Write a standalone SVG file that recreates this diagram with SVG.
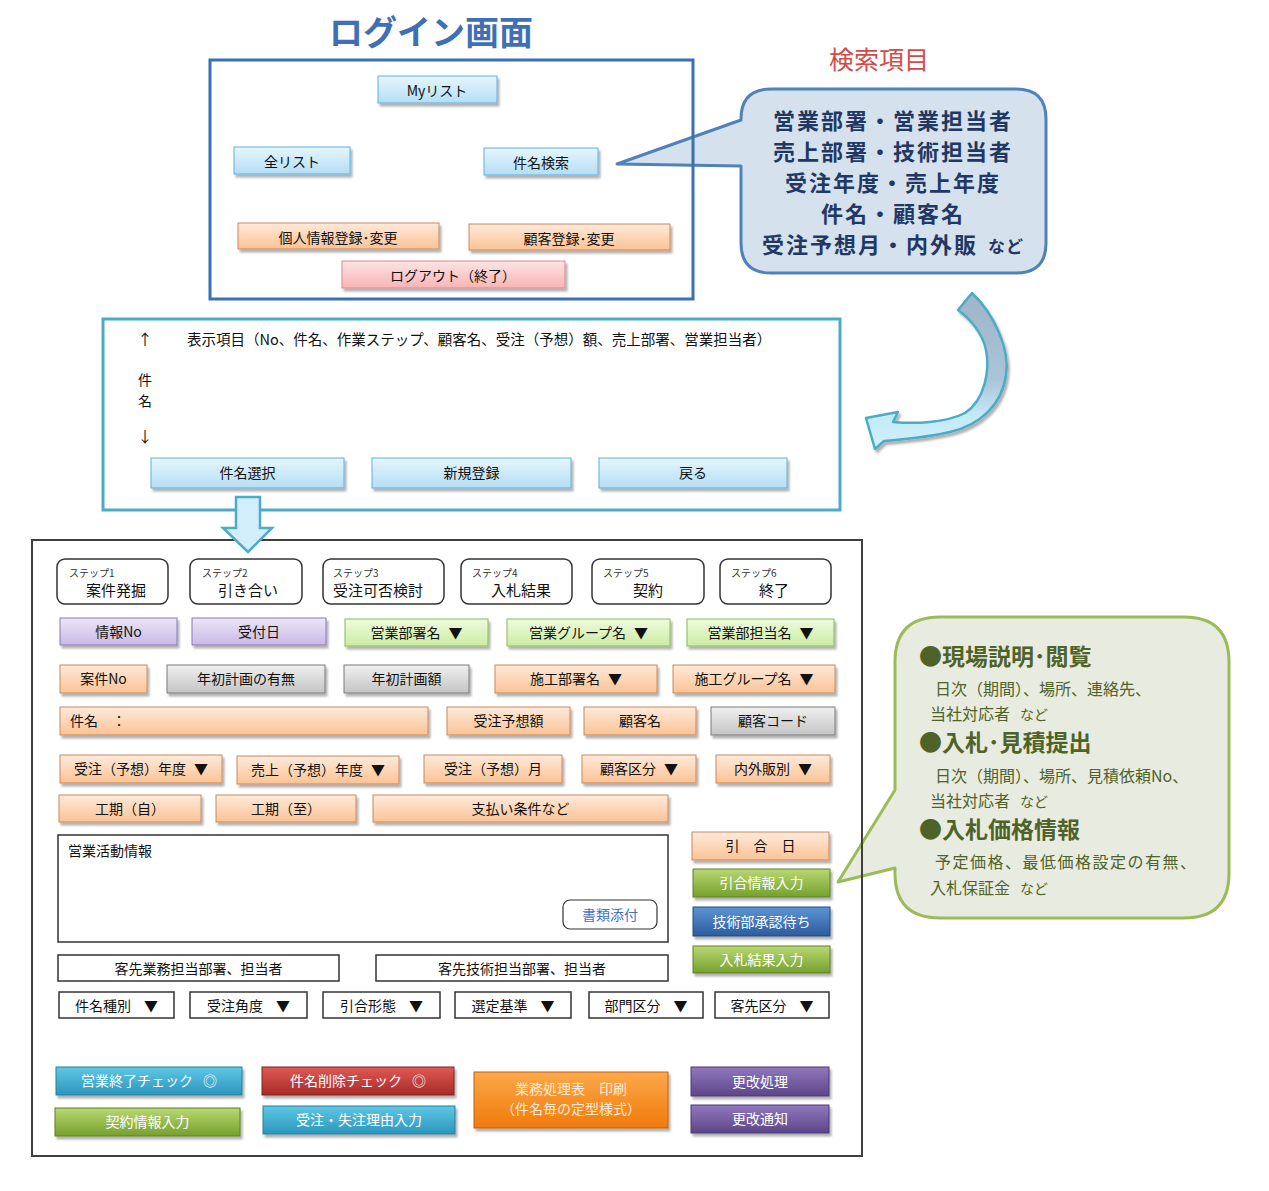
<svg xmlns="http://www.w3.org/2000/svg" width="1269" height="1191" viewBox="0 0 1269 1191">
<defs>
<style>
text{font-family:"Noto Sans CJK JP","Noto Sans CJK SC",sans-serif}
.c{text-anchor:middle;font-size:14px;fill:#111}
.l{font-size:14px;fill:#111}
.w{text-anchor:middle;font-size:14px;fill:#fff}
.sm{font-size:10px;fill:#333}
.st{text-anchor:middle;font-size:15px;fill:#111}
.sh{filter:url(#sh)}
.lb{fill:url(#g-lb);stroke:#62aedb;stroke-width:1}
.or{fill:url(#g-or);stroke:#c98a5c;stroke-width:1}
.pk{fill:url(#g-pk);stroke:#d98a8a;stroke-width:1}
.pu{fill:url(#g-pu);stroke:#8878b8;stroke-width:1}
.gr{fill:url(#g-gr);stroke:#8ab85a;stroke-width:1}
.gy{fill:url(#g-gy);stroke:#7a7a7a;stroke-width:1}
.wh{fill:#fff;stroke:#333;stroke-width:1.5}
.dg{fill:url(#g-dg);stroke:#5f7f25;stroke-width:1}
.db{fill:url(#g-db);stroke:#1f4a80;stroke-width:1}
.cy{fill:url(#g-cy);stroke:#2a7f9a;stroke-width:1}
.rd{fill:url(#g-rd);stroke:#7f2220;stroke-width:1}
.og{fill:url(#g-og);stroke:#c06010;stroke-width:1}
.pp{fill:url(#g-pp);stroke:#4a3870;stroke-width:1}
.ct{font-size:22px;font-weight:700;fill:#1f3864;text-anchor:middle;letter-spacing:2px}
.gh{font-size:23px;font-weight:700;fill:#4f6228}
.gs{font-size:16px;fill:#4f6228}
</style>
<filter id="sh" x="-10%" y="-30%" width="130%" height="180%">
<feDropShadow dx="2" dy="3" stdDeviation="1.2" flood-color="#000" flood-opacity="0.3"/>
</filter>
<linearGradient id="g-lb" x1="0" y1="0" x2="0" y2="1"><stop offset="0" stop-color="#e6f6fd"/><stop offset="1" stop-color="#b4def4"/></linearGradient>
<linearGradient id="g-or" x1="0" y1="0" x2="0" y2="1"><stop offset="0" stop-color="#feeadb"/><stop offset="1" stop-color="#fbc394"/></linearGradient>
<linearGradient id="g-pk" x1="0" y1="0" x2="0" y2="1"><stop offset="0" stop-color="#fde4e4"/><stop offset="1" stop-color="#f8b4b4"/></linearGradient>
<linearGradient id="g-pu" x1="0" y1="0" x2="0" y2="1"><stop offset="0" stop-color="#ece6f6"/><stop offset="1" stop-color="#c8b9e6"/></linearGradient>
<linearGradient id="g-gr" x1="0" y1="0" x2="0" y2="1"><stop offset="0" stop-color="#effadf"/><stop offset="1" stop-color="#cbeca2"/></linearGradient>
<linearGradient id="g-gy" x1="0" y1="0" x2="0" y2="1"><stop offset="0" stop-color="#f0f0f0"/><stop offset="1" stop-color="#c4c4c4"/></linearGradient>
<linearGradient id="g-dg" x1="0" y1="0" x2="0" y2="1"><stop offset="0" stop-color="#b9d872"/><stop offset="1" stop-color="#76a02e"/></linearGradient>
<linearGradient id="g-db" x1="0" y1="0" x2="0" y2="1"><stop offset="0" stop-color="#5d94d6"/><stop offset="1" stop-color="#2c5c9c"/></linearGradient>
<linearGradient id="g-cy" x1="0" y1="0" x2="0" y2="1"><stop offset="0" stop-color="#5fc8e6"/><stop offset="1" stop-color="#2b95bb"/></linearGradient>
<linearGradient id="g-rd" x1="0" y1="0" x2="0" y2="1"><stop offset="0" stop-color="#df5a55"/><stop offset="1" stop-color="#a82a27"/></linearGradient>
<linearGradient id="g-og" x1="0" y1="0" x2="0" y2="1"><stop offset="0" stop-color="#fda84a"/><stop offset="1" stop-color="#f07a0c"/></linearGradient>
<linearGradient id="g-pp" x1="0" y1="0" x2="0" y2="1"><stop offset="0" stop-color="#9178be"/><stop offset="1" stop-color="#5c4688"/></linearGradient>
<linearGradient id="g-arc" gradientUnits="userSpaceOnUse" x1="0" y1="293" x2="0" y2="450"><stop offset="0" stop-color="#9fb4c9"/><stop offset="0.55" stop-color="#a9c4d8"/><stop offset="0.78" stop-color="#c4eaf8"/><stop offset="1" stop-color="#cff1fb"/></linearGradient>
</defs>
<rect width="1269" height="1191" fill="#fff"/>

<g id="title-login">
<text x="431" y="45" text-anchor="middle" font-size="34" font-weight="700" fill="#3f6fb6">ログイン画面</text>
</g>

<g id="search-title">
<text x="879" y="69" text-anchor="middle" font-size="25" fill="#d24b4b">検索項目</text>
</g>

<g id="search-callout">
<path d="M 771 89 H 1016 Q 1046 89 1046 119 V 243 Q 1046 273 1016 273 H 771 Q 741 273 741 243 V 166 L 617 164 L 741 120 V 119 Q 741 89 771 89 Z" fill="#d6e1ee" stroke="#4f81bd" stroke-width="3" stroke-linejoin="round"/>
<text class="ct" x="893" y="129">営業部署・営業担当者</text>
<text class="ct" x="893" y="160">売上部署・技術担当者</text>
<text class="ct" x="893" y="191">受注年度・売上年度</text>
<text class="ct" x="893" y="222">件名・顧客名</text>
<text class="ct" x="893" y="253">受注予想月・内外販<tspan font-size="17" dx="10" letter-spacing="1">など</tspan></text>
</g>

<g id="login-screen">
<rect x="210" y="60" width="483" height="239" fill="none" stroke="#3b6fb6" stroke-width="3"/>
<g id="btn-mylist"><rect class="lb sh" x="378" y="76" width="119" height="27"/><text class="c" x="437" y="96">Myリスト</text></g>
<g id="btn-alllist"><rect class="lb sh" x="234" y="147" width="116" height="27"/><text class="c" x="292" y="167">全リスト</text></g>
<g id="btn-search"><rect class="lb sh" x="484" y="148" width="114" height="27"/><text class="c" x="541" y="168">件名検索</text></g>
<g id="btn-personal"><rect class="or sh" x="238" y="223" width="201" height="26"/><text class="c" x="338" y="243">個人情報登録･変更</text></g>
<g id="btn-customer"><rect class="or sh" x="469" y="224" width="201" height="26"/><text class="c" x="569" y="244">顧客登録･変更</text></g>
<g id="btn-logout"><rect class="pk sh" x="342" y="261" width="223" height="27"/><text class="c" x="453" y="281">ログアウト（終了）</text></g>
</g>

<g id="list-screen">
<rect x="103" y="319" width="737" height="191" fill="#fff" stroke="#4bacc6" stroke-width="3"/>
<text x="145" y="345" text-anchor="middle" font-size="15" fill="#111">↑</text>
<text x="187" y="345" font-size="14.5" fill="#111">表示項目（No、件名、作業ステップ、顧客名、受注（予想）額、売上部署、営業担当者）</text>
<text x="145" y="385" text-anchor="middle" font-size="14" fill="#111">件</text>
<text x="145" y="406" text-anchor="middle" font-size="14" fill="#111">名</text>
<text x="145" y="442" text-anchor="middle" font-size="15" fill="#111">↓</text>
<g id="btn-select"><rect class="lb sh" x="151" y="458" width="193" height="30"/><text class="c" x="247.5" y="478">件名選択</text></g>
<g id="btn-new"><rect class="lb sh" x="372" y="458" width="199" height="30"/><text class="c" x="471.5" y="478">新規登録</text></g>
<g id="btn-back"><rect class="lb sh" x="599" y="458" width="188" height="30"/><text class="c" x="693" y="478">戻る</text></g>
</g>

<g id="info-callout">
<path d="M 940 617 H 1184 Q 1229 617 1229 662 V 873 Q 1229 918 1184 918 H 940 Q 895 918 895 873 V 868 L 838 882 L 895 790 V 662 Q 895 617 940 617 Z" fill="#e8ebdf" stroke="#9bbb59" stroke-width="3" stroke-linejoin="round"/>
<text class="gh" x="919" y="665">●現場説明･閲覧</text>
<text class="gs" x="935" y="695">日次（期間）、場所、連絡先、</text>
<text class="gs" x="930" y="720">当社対応者<tspan font-size="14" dx="10">など</tspan></text>
<text class="gh" x="919" y="751">●入札･見積提出</text>
<text class="gs" x="935" y="782">日次（期間）、場所、見積依頼No、</text>
<text class="gs" x="930" y="807">当社対応者<tspan font-size="14" dx="10">など</tspan></text>
<text class="gh" x="919" y="838">●入札価格情報</text>
<text class="gs" x="935" y="868" letter-spacing="1.5">予定価格、最低価格設定の有無、</text>
<text class="gs" x="930" y="894">入札保証金<tspan font-size="14" dx="10">など</tspan></text>
</g>

<g id="detail-screen">
<rect x="32" y="540" width="830" height="616" fill="none" stroke="#3f3f3f" stroke-width="2"/>
<g id="step1"><rect class="wh" x="57" y="559" width="111" height="45" rx="8"/><text class="sm" x="69" y="577">ステップ1</text><text class="st" x="116" y="596">案件発掘</text></g>
<g id="step2"><rect class="wh" x="190" y="559" width="112" height="45" rx="8"/><text class="sm" x="202" y="577">ステップ2</text><text class="st" x="248" y="596">引き合い</text></g>
<g id="step3"><rect class="wh" x="323" y="559" width="121" height="45" rx="8"/><text class="sm" x="333" y="577">ステップ3</text><text class="st" x="378" y="596">受注可否検討</text></g>
<g id="step4"><rect class="wh" x="461" y="559" width="111" height="45" rx="8"/><text class="sm" x="472" y="577">ステップ4</text><text class="st" x="521" y="596">入札結果</text></g>
<g id="step5"><rect class="wh" x="592" y="559" width="112" height="45" rx="8"/><text class="sm" x="603" y="577">ステップ5</text><text class="st" x="648" y="596">契約</text></g>
<g id="step6"><rect class="wh" x="720" y="559" width="111" height="45" rx="8"/><text class="sm" x="731" y="577">ステップ6</text><text class="st" x="774" y="596">終了</text></g>

<g id="f-info-no"><rect class="pu sh" x="60" y="618" width="117" height="27"/><text class="c" x="118.5" y="637">情報No</text></g>
<g id="f-uketsuke"><rect class="pu sh" x="192" y="618" width="134" height="27"/><text class="c" x="259" y="637">受付日</text></g>
<g id="f-eigyo-busho"><rect class="gr sh" x="345" y="619" width="143" height="27"/><text class="c" x="416.5" y="638">営業部署名<tspan dx="8">▼</tspan></text></g>
<g id="f-eigyo-group"><rect class="gr sh" x="507" y="619" width="163" height="27"/><text class="c" x="588.5" y="638">営業グループ名<tspan dx="8">▼</tspan></text></g>
<g id="f-eigyo-tanto"><rect class="gr sh" x="687" y="619" width="147" height="27"/><text class="c" x="760.5" y="638">営業部担当名<tspan dx="8">▼</tspan></text></g>

<g id="f-anken-no"><rect class="or sh" x="60" y="665" width="87" height="28"/><text class="c" x="103.5" y="684">案件No</text></g>
<g id="f-nensho-umu"><rect class="gy sh" x="167" y="665" width="158" height="28"/><text class="c" x="246" y="684">年初計画の有無</text></g>
<g id="f-nensho-gaku"><rect class="gy sh" x="344" y="665" width="125" height="28"/><text class="c" x="406.5" y="684">年初計画額</text></g>
<g id="f-seko-busho"><rect class="or sh" x="495" y="665" width="162" height="28"/><text class="c" x="576" y="684">施工部署名<tspan dx="8">▼</tspan></text></g>
<g id="f-seko-group"><rect class="or sh" x="673" y="665" width="162" height="28"/><text class="c" x="754" y="684">施工グループ名<tspan dx="8">▼</tspan></text></g>

<g id="f-kenmei"><rect class="or sh" x="60" y="707" width="368" height="28"/><text class="l" x="70" y="726">件名　：</text></g>
<g id="f-juchu-yoso-gaku"><rect class="or sh" x="447" y="707" width="123" height="28"/><text class="c" x="508.5" y="726">受注予想額</text></g>
<g id="f-kokyaku-mei"><rect class="or sh" x="584" y="707" width="112" height="28"/><text class="c" x="640" y="726">顧客名</text></g>
<g id="f-kokyaku-code"><rect class="gy sh" x="711" y="707" width="124" height="28"/><text class="c" x="773" y="726">顧客コード</text></g>

<g id="f-juchu-nendo"><rect class="or sh" x="60" y="755" width="162" height="28"/><text class="c" x="141" y="774">受注（予想）年度<tspan dx="8">▼</tspan></text></g>
<g id="f-uriage-nendo"><rect class="or sh" x="237" y="756" width="162" height="28"/><text class="c" x="318" y="775">売上（予想）年度<tspan dx="8">▼</tspan></text></g>
<g id="f-juchu-tsuki"><rect class="or sh" x="424" y="755" width="138" height="28"/><text class="c" x="493" y="774">受注（予想）月</text></g>
<g id="f-kokyaku-kubun"><rect class="or sh" x="582" y="755" width="114" height="28"/><text class="c" x="639" y="774">顧客区分<tspan dx="8">▼</tspan></text></g>
<g id="f-naigai"><rect class="or sh" x="716" y="755" width="114" height="28"/><text class="c" x="773" y="774">内外販別<tspan dx="8">▼</tspan></text></g>

<g id="f-koki-ji"><rect class="or sh" x="59" y="795" width="142" height="27"/><text class="c" x="130" y="814">工期（自）</text></g>
<g id="f-koki-shi"><rect class="or sh" x="216" y="795" width="140" height="27"/><text class="c" x="286" y="814">工期（至）</text></g>
<g id="f-shiharai"><rect class="or sh" x="373" y="795" width="295" height="27"/><text class="c" x="520.5" y="814">支払い条件など</text></g>

<g id="f-katsudo"><rect class="wh" x="58" y="835" width="610" height="107"/><text class="l" x="68" y="856">営業活動情報</text></g>
<g id="btn-shorui"><rect x="563" y="900" width="94" height="29" rx="7" fill="#fff" stroke="#333" stroke-width="1.2"/><text x="610" y="920" text-anchor="middle" font-size="14" fill="#4472c4">書類添付</text></g>

<g id="f-kyaku-gyomu"><rect class="wh" x="58" y="955" width="281" height="26"/><text class="c" x="198.5" y="974">客先業務担当部署、担当者</text></g>
<g id="f-kyaku-gijutsu"><rect class="wh" x="376" y="955" width="292" height="26"/><text class="c" x="522" y="974">客先技術担当部署、担当者</text></g>

<g id="f-kenmei-shubetsu"><rect class="wh" x="59" y="992" width="115" height="26"/><text class="c" x="116.5" y="1011">件名種別<tspan dx="13">▼</tspan></text></g>
<g id="f-juchu-kakudo"><rect class="wh" x="190" y="992" width="117" height="26"/><text class="c" x="248.5" y="1011">受注角度<tspan dx="13">▼</tspan></text></g>
<g id="f-hikiai-keitai"><rect class="wh" x="323" y="992" width="117" height="26"/><text class="c" x="381.5" y="1011">引合形態<tspan dx="13">▼</tspan></text></g>
<g id="f-sentei"><rect class="wh" x="455" y="992" width="116" height="26"/><text class="c" x="513" y="1011">選定基準<tspan dx="13">▼</tspan></text></g>
<g id="f-bumon"><rect class="wh" x="589" y="992" width="114" height="26"/><text class="c" x="646" y="1011">部門区分<tspan dx="13">▼</tspan></text></g>
<g id="f-kyakusaki-kubun"><rect class="wh" x="715" y="992" width="114" height="26"/><text class="c" x="772" y="1011">客先区分<tspan dx="13">▼</tspan></text></g>

<g id="f-hikiai-bi"><rect class="or sh" x="692" y="832" width="137" height="28"/><text class="c" x="760.5" y="851">引　合　日</text></g>
<g id="btn-hikiai-input"><rect class="dg sh" x="693" y="869" width="137" height="28"/><text class="w" x="761.5" y="888">引合情報入力</text></g>
<g id="btn-gijutsu-wait"><rect class="db sh" x="693" y="907" width="137" height="29"/><text class="w" x="761.5" y="926.5">技術部承認待ち</text></g>
<g id="btn-nyusatsu-input"><rect class="dg sh" x="693" y="946" width="137" height="27"/><text class="w" x="761.5" y="964.5">入札結果入力</text></g>

<g id="btn-eigyo-end"><rect class="cy sh" x="56" y="1067" width="186" height="28"/><text class="w" x="149" y="1086">営業終了チェック<tspan dx="10">◎</tspan></text></g>
<g id="btn-keiyaku"><rect class="dg sh" x="55" y="1108" width="185" height="28"/><text class="w" x="147.5" y="1127">契約情報入力</text></g>
<g id="btn-delete"><rect class="rd sh" x="262" y="1067" width="192" height="28"/><text class="w" x="358" y="1086">件名削除チェック<tspan dx="10">◎</tspan></text></g>
<g id="btn-reason"><rect class="cy sh" x="263" y="1106" width="192" height="28"/><text class="w" x="359" y="1125">受注・失注理由入力</text></g>
<g id="btn-print"><rect class="og sh" x="474" y="1072" width="194" height="56"/><text x="571" y="1094" text-anchor="middle" font-size="14" fill="#fdebd8">業務処理表　印刷</text><text x="571" y="1114" text-anchor="middle" font-size="14" fill="#fdebd8">（件名毎の定型様式）</text></g>
<g id="btn-kokai-shori"><rect class="pp sh" x="691" y="1067" width="138" height="29"/><text class="w" x="760" y="1086.5">更改処理</text></g>
<g id="btn-kokai-tsuchi"><rect class="pp sh" x="691" y="1105" width="138" height="28"/><text class="w" x="760" y="1124">更改通知</text></g>
</g>

<g id="connectors">
<path id="arc-arrow" d="M 972 293 C 995 315 1010 350 1006 375 C 1002 405 980 425 950 432 C 930 437 905 439 884 441 L 875 449 L 866 418 L 898 412 L 893 422 C 915 424 945 423 965 413 C 985 400 990 370 986 350 C 983 335 972 320 958 310 Z" fill="url(#g-arc)" stroke="#4bacc6" stroke-width="2.5" stroke-linejoin="round" filter="url(#sh)"/>
<path id="down-arrow" d="M 236 497 H 260 V 528 H 272 L 248 552 L 223 528 H 236 Z" fill="#d2eefa" stroke="#4bacc6" stroke-width="2.5" stroke-linejoin="miter"/>
</g>
</svg>
